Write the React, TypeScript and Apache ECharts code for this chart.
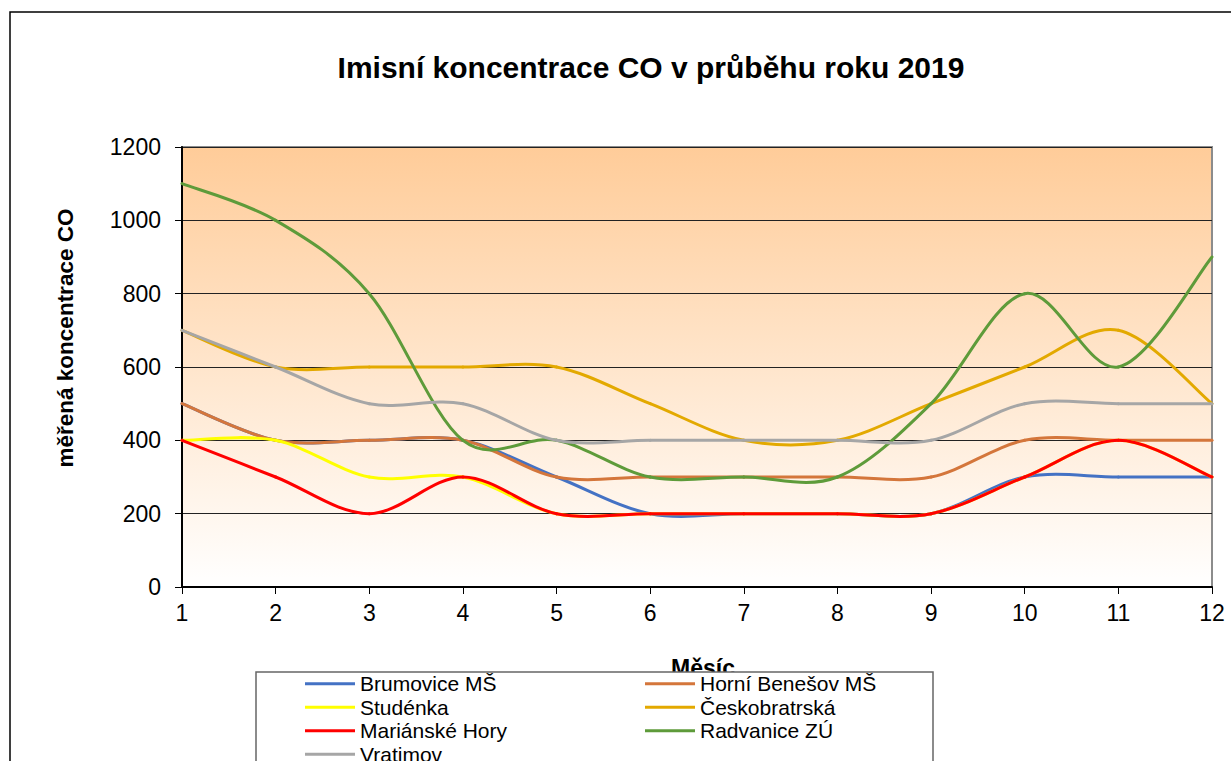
import React, { useEffect, useRef } from "react";
import * as echarts from "echarts";

const months = ["1", "2", "3", "4", "5", "6", "7", "8", "9", "10", "11", "12"];
const yTicks = { min: 0, max: 1200, interval: 200 };

const seriesNames = [
  "Brumovice MŠ",
  "Horní Benešov MŠ",
  "Studénka",
  "Českobratrská",
  "Mariánské Hory",
  "Radvanice ZÚ",
  "Vratimov",
];
const seriesColors = ["#4472C4", "#D4763B", "#FFFF00", "#E3A900", "#FF0000", "#5E9B3A", "#A6A6A6"];

const brumovice = [500, 400, 400, 400, 300, 200, 200, 200, 200, 300, 300, 300];
const horniBenesov = [500, 400, 400, 400, 300, 300, 300, 300, 300, 400, 400, 400];
const studenka = [400, 400, 300, 300, 200, 200, 200, 200, 200, 300, 400, 300];
const ceskobratrska = [700, 600, 600, 600, 600, 500, 400, 400, 500, 600, 700, 500];
const marianskeHory = [400, 300, 200, 300, 200, 200, 200, 200, 200, 300, 400, 300];
const radvanice = [1100, 1000, 800, 400, 400, 300, 300, 300, 500, 800, 600, 900];
const vratimov = [700, 600, 500, 500, 400, 400, 400, 400, 400, 500, 500, 500];

const seriesData = [brumovice, horniBenesov, studenka, ceskobratrska, marianskeHory, radvanice, vratimov];

const titleText = "Imisní koncentrace CO v průběhu roku 2019";
const yName = "měřená koncentrace CO";
const xName = "Měsíc";

const FONT = "'Liberation Sans', Arial, sans-serif";

function makeRenderItem(values: number[], color: string) {
  return (params: any, api: any) => {
    const i = params.dataIndex;
    const n = values.length;
    if (i >= n - 1) return null;
    const pt = (k: number) => {
      const kk = Math.max(0, Math.min(n - 1, k));
      return api.coord([kk, values[kk]]);
    };
    const p0 = pt(i - 1);
    const p1 = pt(i);
    const p2 = pt(i + 1);
    const p3 = pt(i + 2);
    const t = 1 / 6;
    return {
      type: "bezierCurve",
      shape: {
        x1: p1[0],
        y1: p1[1],
        cpx1: p1[0] + (p2[0] - p0[0]) * t,
        cpy1: p1[1] + (p2[1] - p0[1]) * t,
        cpx2: p2[0] - (p3[0] - p1[0]) * t,
        cpy2: p2[1] - (p3[1] - p1[1]) * t,
        x2: p2[0],
        y2: p2[1],
      },
      style: { stroke: color, lineWidth: 3, fill: "none", lineCap: "round" },
      silent: true,
    };
  };
}

export default function App() {
  const ref = useRef<HTMLDivElement>(null);
  useEffect(() => {
    document.body.style.margin = "0";
    document.body.style.overflow = "hidden";
    const chart = echarts.init(ref.current!, undefined, { renderer: "svg" });
    chart.setOption({
      animation: false,
      backgroundColor: "#ffffff",
      textStyle: { fontFamily: FONT },
      grid: {
        left: 182,
        right: 19,
        top: 147,
        bottom: 174,
        show: true,
        borderColor: "#8c8c8c",
        borderWidth: 2,
        backgroundColor: new echarts.graphic.LinearGradient(0, 0, 0, 1, [
          { offset: 0, color: "#FFCC99" },
          { offset: 1, color: "#FFFFFF" },
        ]),
      },
      xAxis: {
        type: "category",
        data: months,
        boundaryGap: false,
        axisLine: { lineStyle: { color: "#000", width: 2 } },
        axisTick: { show: true, length: 7, lineStyle: { color: "#000", width: 1 } },
        axisLabel: { color: "#000", fontSize: 23, margin: 14, fontFamily: FONT },
        splitLine: { show: false },
      },
      yAxis: {
        type: "value",
        min: yTicks.min,
        max: yTicks.max,
        interval: yTicks.interval,
        axisLine: { show: true, lineStyle: { color: "#000", width: 2 } },
        axisTick: { show: true, length: 7, lineStyle: { color: "#000", width: 1 } },
        axisLabel: {
          color: "#000",
          fontSize: 23,
          margin: 21,
          fontFamily: FONT,
          formatter: (v: number) => String(v),
        },
        splitLine: { show: true, lineStyle: { color: "#222", width: 1 } },
      },
      legend: {
        data: seriesNames,
        left: 305,
        top: 672,
        width: 700,
        padding: 0,
        itemGap: 0,
        itemWidth: 50,
        itemHeight: 3,
        icon: "rect",
        z: 20,
        textStyle: {
          color: "#000",
          fontSize: 21,
          fontFamily: FONT,
          width: 285,
          height: 23.5,
          lineHeight: 23.5,
        },
      },
      graphic: [
        {
          type: "rect",
          z: 0,
          silent: true,
          shape: { x: 10, y: 12, width: 1240, height: 800 },
          style: { fill: "none", stroke: "#000", lineWidth: 1.5 },
        },
        {
          type: "text",
          z: 1,
          x: 651,
          y: 67,
          style: {
            text: titleText,
            fontSize: 30,
            fontWeight: "bold",
            fontFamily: FONT,
            fill: "#000",
            textAlign: "center",
            textVerticalAlign: "middle",
          },
        },
        {
          type: "text",
          z: 1,
          x: 65,
          y: 338,
          rotation: Math.PI / 2,
          style: {
            text: yName,
            fontSize: 22.5,
            fontWeight: "bold",
            fontFamily: FONT,
            fill: "#000",
            textAlign: "center",
            textVerticalAlign: "middle",
          },
        },
        {
          type: "text",
          z: 1,
          x: 703,
          y: 668,
          style: {
            text: xName,
            fontSize: 23,
            fontWeight: "bold",
            fontFamily: FONT,
            fill: "#000",
            textAlign: "center",
            textVerticalAlign: "middle",
          },
        },
        {
          type: "rect",
          z: 5,
          silent: true,
          shape: { x: 256, y: 672, width: 677, height: 200 },
          style: { fill: "#ffffff", stroke: "#666", lineWidth: 1.5 },
        },
      ],
      series: seriesNames.map((name, i) => ({
        name,
        type: "custom",
        coordinateSystem: "cartesian2d",
        encode: { x: 0, y: 1 },
        data: seriesData[i].map((v, k) => [k, v]),
        itemStyle: { color: seriesColors[i] },
        renderItem: makeRenderItem(seriesData[i], seriesColors[i]),
      })),
    });
    return () => chart.dispose();
  }, []);
  return <div ref={ref} style={{ width: 1231, height: 761 }} />;
}
